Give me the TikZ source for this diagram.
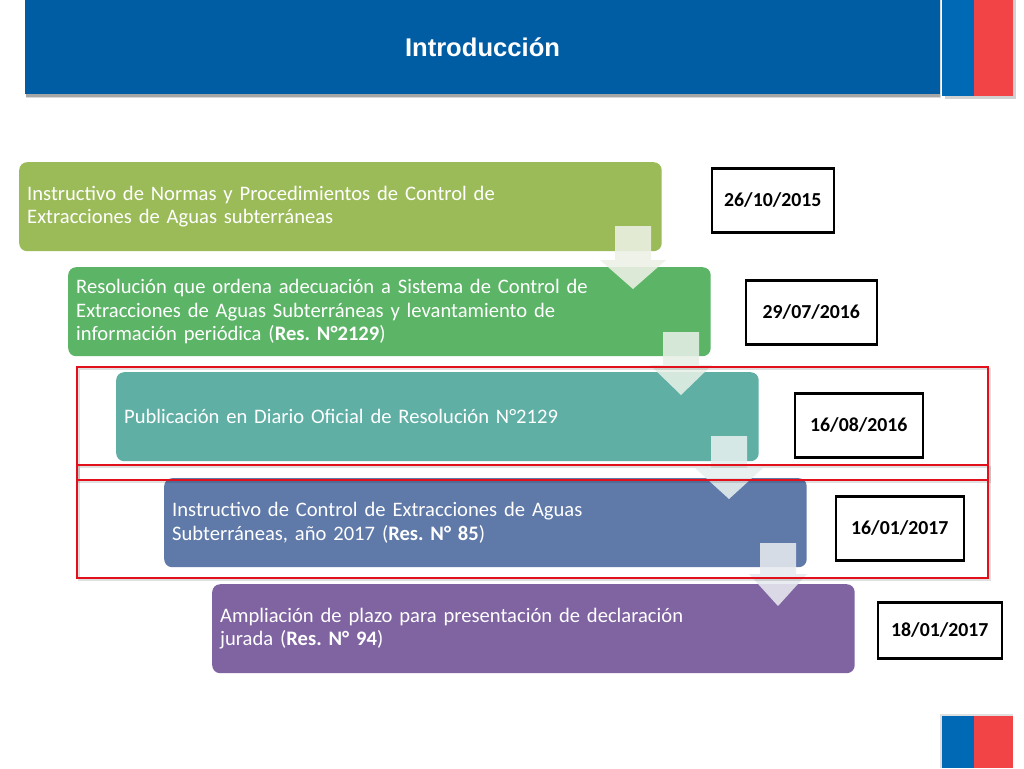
\documentclass[tikz,border=0pt]{standalone}
\usepackage{fontspec}
\setmainfont{Carlito}
\newfontfamily\arialf{Liberation Sans}
\usetikzlibrary{calc}
\definecolor{hdr}{HTML}{005CA3}
\definecolor{fblue}{HTML}{0069B5}
\definecolor{fred}{HTML}{F24446}
\definecolor{cA}{HTML}{9BBB59}
\definecolor{cB}{HTML}{5CB466}
\definecolor{cC}{HTML}{5FAFA5}
\definecolor{cD}{HTML}{5F79A9}
\definecolor{cE}{HTML}{8064A2}
\definecolor{rframe}{HTML}{E2101A}
\tikzset{
  x=1pt,y=-1pt,
  blockn/.style={anchor=north west,rounded corners=8pt,minimum width=642.5pt,minimum height=89pt,
    text width=626.5pt,inner xsep=8pt,inner ysep=0pt,align=left,text=white,
    font=\fontsize{20.6pt}{23.6pt}\selectfont},
  datebox/.style={draw=black,line width=2.6pt,fill=white,anchor=north west,inner sep=0pt,align=center,
    font=\fontsize{19.8pt}{22pt}\selectfont\bfseries},
  redframe/.style={draw=rframe,line width=2.2pt},
  frameshadow/.style={draw=black,line width=2.6pt,opacity=.12},
}
\newcommand{\blockarrow}[6]{% tip name, tip x, tip y, half head, head height, colour
  \coordinate (#1) at (#2,#3);
  \fill[#6,fill opacity=.88] ($(#1)+(-18,-63)$) -- ($(#1)+(18,-63)$) -- ($(#1)+(18,-#5)$) -- ($(#1)+(#4,-#5)$)
    -- (#1) -- ($(#1)+(-#4,-#5)$) -- ($(#1)+(-18,-#5)$) -- cycle;
}
\begin{document}
\frenchspacing
\begin{tikzpicture}
\useasboundingbox (0,0) rectangle (1024,768);
\fill[white] (0,0) rectangle (1024,768);
% header
\fill[black!15] (26,0) rectangle (941,98);
\fill[black!35] (26,0) rectangle (940,96.5);
\node[fill=hdr,anchor=north west,minimum width=915pt,minimum height=94pt,inner sep=0pt] (header) at (25,0) {};
\node[text=white,font=\arialf\fontsize{25.6pt}{28pt}\selectfont\bfseries] (title) at (482.5,47) {Introducción};
% flags
\fill[black!18] (945,0) rectangle (1016,99);
\node[fill=fblue,anchor=north west,minimum width=32pt,minimum height=96pt,inner sep=0pt] (flagA) at (942,0) {};
\node[fill=fred,anchor=north west,minimum width=39pt,minimum height=96pt,inner sep=0pt] (flagB) at (974,0) {};
\fill[black!12] (940,714) rectangle (1013,768);
\node[fill=fblue,anchor=north west,minimum width=32pt,minimum height=52pt,inner sep=0pt] (flagC) at (942,716) {};
\node[fill=fred,anchor=north west,minimum width=39pt,minimum height=52pt,inner sep=0pt] (flagD) at (974,716) {};
% blocks
\node[blockn,fill=cA] (b1) at (19,162) {\raisebox{-1pt}{Instructivo de Normas y Procedimientos de Control de}\\\raisebox{-1pt}{Extracciones de Aguas subterráneas}};
\node[blockn,fill=cB] (b2) at (68,267) {\raisebox{-1pt}{Resolución que ordena adecuación a Sistema de Control de}\\\raisebox{-1pt}{Extracciones de Aguas Subterráneas y levantamiento de}\\\raisebox{-1pt}{información periódica (\textbf{Res. N°2129})}};
\node[blockn,fill=cC] (b3) at (116,372) {\raisebox{-1pt}{Publicación en Diario Oficial de Resolución N°2129}};
\node[blockn,fill=cD] (b4) at (164,478) {\raisebox{-1pt}{Instructivo de Control de Extracciones de Aguas}\\\raisebox{-1pt}{Subterráneas, año 2017 (\textbf{Res. N° 85})}};
\node[blockn,fill=cE] (b5) at (212,584) {\raisebox{-1pt}{Ampliación de plazo para presentación de declaración}\\\raisebox{-1pt}{jurada (\textbf{Res. N° 94})}};
% block arrows
\blockarrow{a1}{633}{289}{33}{29}{black!16!cA!14!white}
\blockarrow{a2}{681}{395}{31}{30}{black!16!cB!14!white}
\blockarrow{a3}{729}{499}{34}{31}{black!16!cC!14!white}
\blockarrow{a4}{778}{606}{29}{32}{black!16!cD!14!white}
% date boxes
\node[datebox,minimum width=122pt,minimum height=64pt] (d1) at (710.5,167) {\raisebox{-1pt}{26/10/2015}};
\node[datebox,minimum width=131pt,minimum height=64pt] (d2) at (744.5,279) {\raisebox{-1pt}{29/07/2016}};
\node[datebox,minimum width=128pt,minimum height=64pt] (d3) at (793.5,392) {\raisebox{-1pt}{16/08/2016}};
\node[datebox,minimum width=128pt,minimum height=64pt] (d4) at (834.5,495) {\raisebox{-1pt}{16/01/2017}};
\node[datebox,minimum width=124pt,minimum height=56pt] (d5) at (876.5,601) {\raisebox{-1pt}{18/01/2017}};
% red frames
\draw[frameshadow] (79,369) rectangle (990,482);
\draw[frameshadow] (79,467) rectangle (990,580);
\draw[redframe] (77,367) rectangle (988,480);
\draw[redframe] (77,465) rectangle (988,578);
\end{tikzpicture}
\end{document}
